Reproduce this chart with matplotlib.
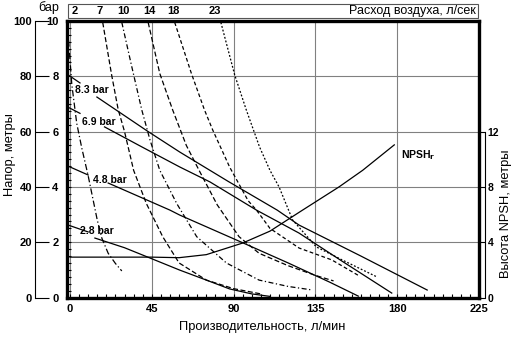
import matplotlib
matplotlib.use('Agg')
import matplotlib.pyplot as plt
import matplotlib.transforms as mtransforms
from matplotlib.patches import Rectangle
from matplotlib.ticker import MultipleLocator

plt.rcParams['font.family'] = ['Liberation Sans', 'DejaVu Sans']

# pressure curves: short lead-in before the label, then the main line
bar_labels = ['8.3 bar', '6.9 bar', '4.8 bar', '2.8 bar']
lead_q = [[-1, 5.5], [-1, 5.5], [-1, 10], [-1, 10]]
lead_h = [[80.5, 77.6], [68.8, 66.6], [47.5, 44.3], [26.2, 23.7]]
main_q = [
    [14.8, 43, 60.4, 87, 114, 126, 160, 196.5],
    [19, 40, 60.4, 77, 102.6, 126, 150, 177],
    [21, 55, 60.4, 95, 120, 142.7, 158.6],
    [13.7, 30, 42.8, 60.4, 75, 87.8, 100, 110],
]
main_h = [
    [72.5, 60, 52.6, 42, 31.6, 26.2, 15, 2.7],
    [61.7, 54.3, 47.2, 41.8, 31.6, 23.3, 13, 1.6],
    [41.4, 31.6, 29.8, 19.8, 12.5, 5.6, 0.5],
    [21.5, 18, 14.6, 9.9, 6.3, 3.1, 1.3, 0.4],
]

# air consumption curves, l/sec
air_labels = ['2', '7', '10', '14', '18', '23']
air_label_q = [2.75, 16.5, 29.2, 43.5, 56.7, 79.8]
air_q = [
    [-0.8, 1, 3.7, 6.5, 10, 12.5, 15, 17.5, 21, 25, 28.5],
    [18, 22.9, 26.5, 30, 35, 42, 51, 60, 75, 90, 105],
    [28.5, 33.8, 39.5, 44, 49.4, 58.7, 69.7, 86, 104, 120, 133.5],
    [43, 49.4, 56.5, 64, 71, 81, 93, 104, 120, 135, 145],
    [57.6, 66.8, 74, 78.5, 87.8, 98, 102.6, 110, 126, 144, 158.6],
    [83, 90.6, 97, 104.3, 110, 115, 122.5, 135.5, 150, 169],
]
air_h = [
    [93, 77, 63, 54, 44, 36, 28, 21.5, 16, 12.3, 9.6],
    [99.5, 80.5, 68, 60, 46, 34, 22, 12.5, 6.3, 3.2, 1.3],
    [99.5, 84, 67.8, 57, 46, 34, 22, 12.5, 6.3, 4, 2.7],
    [99.5, 81, 67.8, 55, 46, 33.5, 22, 16, 11.5, 8, 6],
    [99.5, 81, 67.8, 60.6, 47.2, 35, 31.6, 25, 17.9, 13.6, 8],
    [99.5, 80.5, 67.8, 54.4, 46, 40, 28, 18.3, 13.5, 7.4],
]

# NPSHr, metres
npsh_q = [0, 20, 45, 60, 75, 95, 110, 126.5, 148, 161, 178.4]
npsh_m = [2.92, 2.92, 2.92, 2.88, 3.1, 3.94, 4.8, 6.2, 8.0, 9.2, 11.04]

W, H = 512, 340
fig = plt.figure(figsize=(W / 100, H / 100), dpi=100)
ax = fig.add_axes([67 / W, 42.5 / H, 412 / W, 276.5 / H])
ax.set_xlim(-1.65, 225)
ax.set_ylim(0, 100)

for q, h in zip(lead_q, lead_h):
    ax.plot(q, h, color='black', lw=0.9)
for q, h in zip(main_q, main_h):
    ax.plot(q, h, color='black', lw=0.9)

styles = [(0, (5, 2, 1, 2)), (0, (4, 2)), (0, (4, 2, 1, 2)), (0, (4, 2)), (0, (3, 2)), (0, (1.5, 1.5))]
for q, h, ls in zip(air_q, air_h, styles):
    ax.plot(q, h, color='black', lw=0.9, ls=ls)

label_pos = [(3, 75), (6.5, 63.5), (12.6, 42.5), (5.5, 24)]
for (x, y), t in zip(label_pos, bar_labels):
    ax.text(x, y, t, fontsize=7.5, fontweight='bold', va='center', ha='left')

# frame, grid, ticks
for s in ax.spines.values():
    s.set_linewidth(2.4)
ax.set_xticks([0, 45, 90, 135, 180, 225])
ax.set_yticks([0, 20, 40, 60, 80, 100])
ax.xaxis.set_minor_locator(MultipleLocator(5))
ax.yaxis.set_minor_locator(MultipleLocator(2.5))
ax.grid(True, which='major', color='#808080', lw=0.8)
ax.tick_params(which='both', direction='in', length=3, width=0.8)
ax.tick_params(axis='x', labelsize=8, pad=5)
ax.tick_params(axis='y', labelleft=False)
for lb in ax.get_xticklabels():
    lb.set_fontweight('bold')

# left outer scale (metres) and inner scale (bar)
sec = ax.secondary_yaxis((35 - 67) / 412)
sec.set_yticks([0, 20, 40, 60, 80, 100])
sec.tick_params(direction='in', length=10, width=0.8, labelsize=8, pad=2)
sec.spines['left'].set_linewidth(0.8)
for lb in sec.get_yticklabels():
    lb.set_fontweight('bold')

sec2 = ax.secondary_yaxis((60 - 67) / 412, functions=(lambda v: v / 10, lambda v: v * 10))
sec2.set_yticks([0, 2, 4, 6, 8, 10])
sec2.tick_params(length=0, labelsize=8, pad=1)
sec2.spines['left'].set_visible(False)
for lb in sec2.get_yticklabels():
    lb.set_fontweight('bold')

# right NPSH axis
ax2 = ax.twinx()
ax2.set_ylim(0, 20)
for k in ['left', 'top', 'bottom']:
    ax2.spines[k].set_visible(False)
ax2.spines['right'].set_position(('outward', 4.3))
ax2.spines['right'].set_bounds(0, 12)
ax2.spines['right'].set_linewidth(0.8)
ax2.set_yticks([0, 4, 8, 12])
ax2.tick_params(direction='in', length=4, width=0.8, labelsize=7.5, pad=2)
for lb in ax2.get_yticklabels():
    lb.set_fontweight('bold')
ax2.plot(npsh_q, npsh_m, color='black', lw=0.9)
ax2.text(182, 10.3, 'NPSH$_\\mathbf{r}$', fontsize=7.5, fontweight='bold', va='center')

# top air-flow strip
fig.add_artist(Rectangle((68 / W, 1 - 18 / H), 410 / W, 14 / H, transform=fig.transFigure,
                         fill=False, lw=0.8, ec='#555555'))
tr = mtransforms.blended_transform_factory(ax.transData, fig.transFigure)
for x, t in zip(air_label_q, air_labels):
    ax.text(x, 1 - 11 / H, t, transform=tr, fontsize=8, fontweight='bold', ha='center', va='center')
fig.text(476 / W, 1 - 11 / H, 'Расход воздуха, л/сек', fontsize=9, ha='right', va='center')
fig.text(49 / W, 1 - 8 / H, 'бар', fontsize=9, ha='center', va='center')

fig.text(262 / W, 1 - 327 / H, 'Производительность, л/мин', fontsize=9.3, ha='center', va='center')
fig.text(10 / W, 1 - 155 / H, 'Напор, метры', fontsize=9.3, ha='center', va='center', rotation=90)
fig.text(506 / W, 1 - 214 / H, 'Высота NPSH, метры', fontsize=9.3, ha='center', va='center', rotation=90)

fig.savefig('out.png', dpi=100)
